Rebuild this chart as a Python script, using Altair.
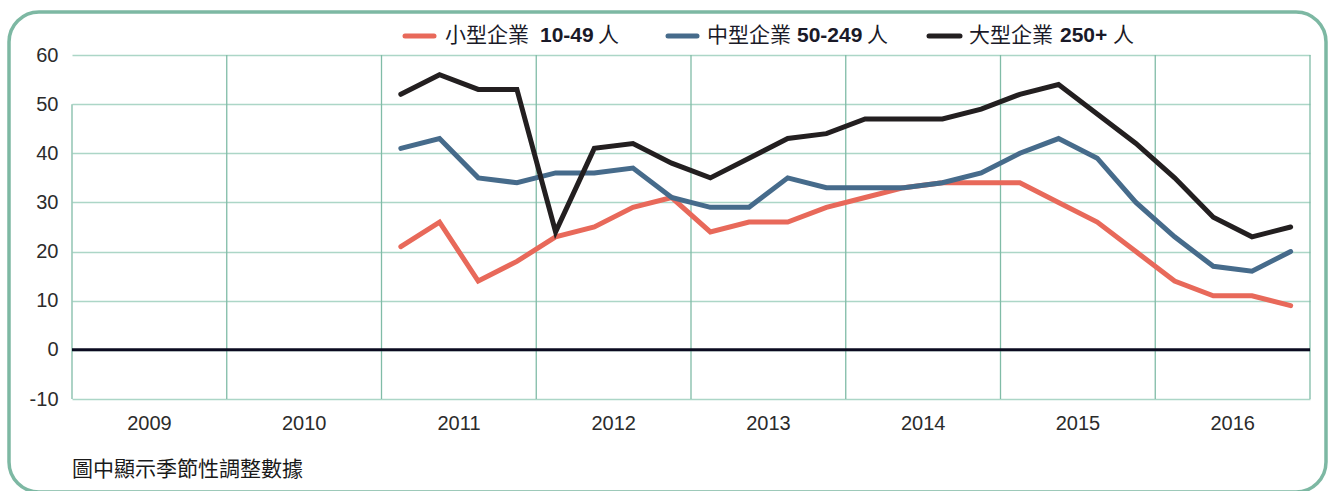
import altair as alt
import pandas as pd

# ---- data ----
periods = [f"{y}Q{q}" for y in range(2011, 2017) for q in range(1, 5)]
small = [21, 26, 14, 18, 23, 25, 29, 31, 24, 26, 26, 29, 31, 33, 34, 34, 34, 30, 26, 20, 14, 11, 11, 9]
medium = [41, 43, 35, 34, 36, 36, 37, 31, 29, 29, 35, 33, 33, 33, 34, 36, 40, 43, 39, 30, 23, 17, 16, 20]
large = [52, 56, 53, 53, 24, 41, 42, 38, 35, 39, 43, 44, 47, 47, 47, 49, 52, 54, 48, 42, 35, 27, 23, 25]
series_names = ["小型企業 10-49 人", "中型企業 50-249 人", "大型企業 250+ 人"]
series_colors = ["#e8695a", "#466b8b", "#231f20"]
year_labels = [2009, 2010, 2011, 2012, 2013, 2014, 2015, 2016]
y_ticks = [-10, 0, 10, 20, 30, 40, 50, 60]
footnote = "圖中顯示季節性調整數據"


def tpos(p):
    y, q = p.split("Q")
    return int(y) + (int(q) - 0.5) / 4


rows = []
for name, vals in zip(series_names, [small, medium, large]):
    for p, v in zip(periods, vals):
        rows.append({"t": tpos(p), "value": v, "series": name})
df = pd.DataFrame(rows)

LATIN = "Liberation Sans"
CJK = "Noto Sans CJK TC"
TXT = "#2b2b2b"

W, H = 1238, 344
xscale = alt.Scale(domain=[2009, 2017], nice=False, zero=False)
yscale = alt.Scale(domain=[-10, 60], nice=False, zero=False)
xaxis = alt.Axis(
    values=year_labels, labelExpr="datum.value + ''", labelOffset=77, grid=False, ticks=False,
    domain=False, labelPadding=14, labelFontSize=20, labelFont=LATIN,
    labelColor=TXT, labelFlush=False, labelOverlap=False, title=None,
)
yaxis = alt.Axis(
    values=y_ticks, labelExpr="datum.value + ''", grid=True, gridColor="#acd6c7", gridWidth=1.3,
    ticks=False, domain=False, labelPadding=14, labelFontSize=20, labelFont=LATIN,
    labelColor=TXT, title=None,
)

one = alt.Data(values=[{}])

border = alt.Chart(one).mark_rect(
    fill=None, stroke="#7db8a3", strokeWidth=3.5, cornerRadius=30, clip=False
).encode(x=alt.value(-63), x2=alt.value(1254), y=alt.value(-43), y2=alt.value(437))

vgrid = alt.Chart(pd.DataFrame({"t": year_labels[1:] + [2017]})).mark_rule(
    color="#80bca7", strokeWidth=1.3
).encode(x=alt.X("t:Q", scale=xscale, axis=xaxis))

vgrid_left = alt.Chart(pd.DataFrame({"t": [2009], "value": [50], "v2": [-10]})).mark_rule(
    color="#80bca7", strokeWidth=1.3
).encode(
    x=alt.X("t:Q", scale=xscale, axis=xaxis),
    y=alt.Y("value:Q", scale=yscale, axis=yaxis),
    y2="v2:Q",
)

lines = alt.Chart(df).mark_line(strokeWidth=5, strokeJoin="miter", strokeCap="round").encode(
    x=alt.X("t:Q", scale=xscale, axis=xaxis),
    y=alt.Y("value:Q", scale=yscale, axis=yaxis),
    color=alt.Color("series:N", scale=alt.Scale(domain=series_names, range=series_colors), legend=None),
    detail="series:N",
)

zero = alt.Chart(pd.DataFrame({"value": [0]})).mark_rule(color="#0b0b20", strokeWidth=3).encode(
    y=alt.Y("value:Q", scale=yscale, axis=yaxis)
)

# manual legend (mixed regular / bold text)
legend_layers = []
legend_parts = [
    (333, 362, series_colors[0], [("小型企業", 373, "normal", CJK), ("10-49", 468, "bold", LATIN), ("人", 526, "normal", CJK)]),
    (596, 625, series_colors[1], [("中型企業", 635, "normal", CJK), ("50-249", 725, "bold", LATIN), ("人", 795, "normal", CJK)]),
    (857, 888, series_colors[2], [("大型企業", 897, "normal", CJK), ("250+", 988, "bold", LATIN), ("人", 1041, "normal", CJK)]),
]
LY = -19
for x1, x2, col, texts in legend_parts:
    legend_layers.append(
        alt.Chart(one).mark_rule(color=col, strokeWidth=5, strokeCap="round", clip=False).encode(
            x=alt.value(x1), x2=alt.value(x2), y=alt.value(LY)
        )
    )
    for txt, x, wt, fnt in texts:
        legend_layers.append(
            alt.Chart(one).mark_text(
                align="left", baseline="middle", font=fnt, fontSize=21, fontWeight=wt,
                color="#1a1a28", clip=False,
            ).encode(x=alt.value(x), y=alt.value(LY), text=alt.value(txt))
        )

note = alt.Chart(one).mark_text(
    align="left", baseline="middle", font=CJK, fontSize=21, color="#1a1a1a", clip=False
).encode(x=alt.value(0), y=alt.value(415), text=alt.value(footnote))

chart = alt.layer(
    lines.mark_line(opacity=0), vgrid, vgrid_left, lines, zero, border, *legend_layers, note
).properties(
    width=W, height=H,
    padding={"left": 72, "top": 55, "right": 19, "bottom": 92},
    autosize=alt.AutoSizeParams(type="none"),
    background="white",
).configure_view(stroke=None)

chart.save("out.html", embed_options={"renderer": "svg", "actions": False})
